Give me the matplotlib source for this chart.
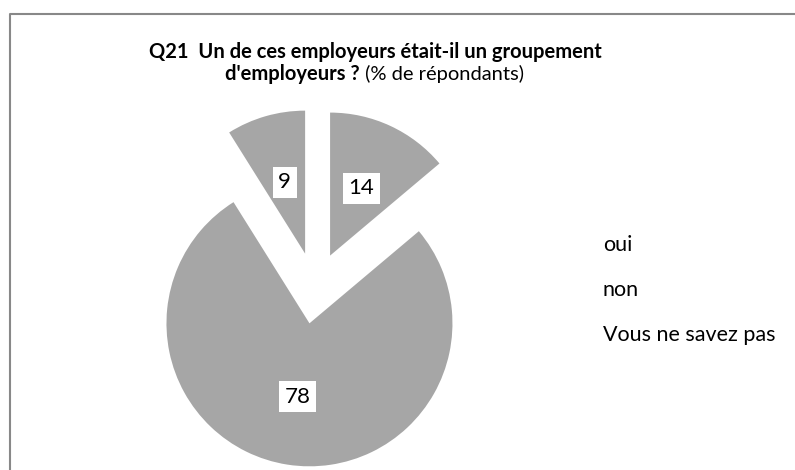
import numpy as np
import matplotlib
matplotlib.use("Agg")
import matplotlib.pyplot as plt
from matplotlib.lines import Line2D

categories = ["oui", "non", "Vous ne savez pas"]
values = [14, 78, 9]
title_line1 = "Q21  Un de ces employeurs était-il un groupement"
title_bold2 = "d'employeurs ?"
title_reg2 = " (% de répondants)"

W, H = 795, 470
plt.rcParams['font.family'] = ['Lato', 'DejaVu Sans']

fig = plt.figure(figsize=(W / 100, H / 100), dpi=100)

# pie placed in pixel terms: centre (315, 288 from top), radius 143 px
cx, cy, r = 315, H - 288, 143
ax = fig.add_axes([(cx - 2 * r) / W, (cy - 2 * r) / H, 4 * r / W, 4 * r / H])
total = sum(values)
wedges, texts, autotexts = ax.pie(
    values, startangle=90, counterclock=False, colors=['#a6a6a6'] * 3,
    explode=[0.25] * 3, autopct=lambda p: "{:.0f}".format(p * total / 100.),
    pctdistance=0.52, wedgeprops=dict(linewidth=0))
for t in autotexts:
    t.set_fontsize(16)
    t.set_color('black')
    t.set_bbox(dict(facecolor='white', edgecolor='none', pad=4))
ax.set_aspect('auto')
ax.set_xlim(-2, 2)
ax.set_ylim(-2, 2)

# title
fig.text(375 / W, 1 - 52 / H, title_line1, ha='center', va='center',
         fontsize=14.5, fontweight='bold')
fig.text(360 / W, 1 - 74 / H, title_bold2, ha='right', va='center',
         fontsize=14.5, fontweight='bold')
fig.text(360 / W, 1 - 74 / H, title_reg2, ha='left', va='center',
         fontsize=14.5)

# legend entries (no markers in the original)
for i, cat in enumerate(categories):
    fig.text(603 / W, 1 - (245 + 45 * i) / H, cat, ha='left', va='center',
             fontsize=15.5)

# chart frame
fig.add_artist(Line2D([10 / W, 10 / W, 1.01], [-0.01, 1 - 14 / H, 1 - 14 / H],
                      transform=fig.transFigure, color='#888888', linewidth=1.5))

fig.savefig('out.png', dpi=100)
